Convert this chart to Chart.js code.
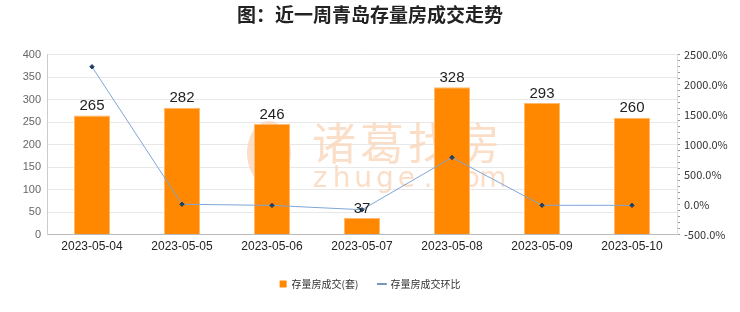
<!DOCTYPE html>
<html>
<head>
<meta charset="utf-8">
<script src="https://cdn.jsdelivr.net/npm/chart.js@4.4.0/dist/chart.umd.min.js"></script>
<style>
  html, body { margin: 0; padding: 0; background: #fff; }
  #wrap { width: 740px; height: 312px; }
</style>
</head>
<body>
<div id="wrap"><canvas id="c"></canvas></div>
<script>
// data
var dates = ['2023-05-04', '2023-05-05', '2023-05-06', '2023-05-07', '2023-05-08', '2023-05-09', '2023-05-10'];
var deals = [265, 282, 246, 37, 328, 293, 260];
var dealsChange = [2300, 6.4, -12.8, -85, 786.5, -10.7, -11.3];

// watermark behind the bars
var watermark = {
    id: 'watermark',
    beforeDatasetsDraw: function(chart){
        var ctx = chart.ctx;
        ctx.save();
        ctx.fillStyle = 'rgba(249, 214, 186, 0.8)';
        ctx.textBaseline = 'middle';
        ctx.textAlign = 'center';
        ctx.font = '44px "Noto Sans CJK SC"';
        var t = '诸葛找房';
        for (var j = 0; j < t.length; j++){
            ctx.fillText(t[j], 334 + j * 48, 143);
        }
        ctx.font = '28px "DejaVu Sans"';
        var s = 'zhuge.com';
        for (var i = 0; i < s.length; i++){
            ctx.fillText(s[i], 320 + i * 21.6, 180);
        }
        // logo
        ctx.beginPath();
        ctx.ellipse(269, 153, 22, 32, 0, 0, Math.PI * 2);
        ctx.fill();
        ctx.restore();
    }
};

// bar value labels
var barLabels = {
    id: 'barLabels',
    afterDatasetsDraw: function(chart){
        var ctx = chart.ctx;
        var meta = chart.getDatasetMeta(0);
        ctx.save();
        ctx.fillStyle = '#222';
        ctx.font = '15px "Liberation Sans"';
        ctx.textAlign = 'center';
        ctx.textBaseline = 'bottom';
        meta.data.forEach(function(bar, i){
            ctx.fillText(deals[i], bar.x, bar.y - 2);
        });
        ctx.restore();
    }
};

var ctx = document.getElementById('c').getContext('2d');
var myChart = new Chart(ctx, {
    type: 'bar',
    data: {
        labels: dates,
        datasets: [{
            type: 'bar',
            label: '存量房成交(套)',
            data: deals,
            yAxisID: 'y',
            backgroundColor: '#FF8800',
            borderColor: '#FFB870',
            borderWidth: 1,
            barPercentage: 0.4,
            categoryPercentage: 1,
            order: 2
        }, {
            type: 'line',
            label: '存量房成交环比',
            data: dealsChange,
            yAxisID: 'y1',
            borderColor: '#7EA6D6',
            backgroundColor: '#1F3F66',
            borderWidth: 1,
            pointStyle: 'rectRot',
            pointRadius: 2.2,
            pointBorderColor: '#1F3F66',
            pointBackgroundColor: '#1F3F66',
            tension: 0,
            order: 1
        }]
    },
    options: {
        responsive: true,
        maintainAspectRatio: false,
        animation: false,
        layout: { padding: { left: 0, right: 0, top: 0, bottom: 13 } },
        plugins: {
            title: {
                display: true,
                text: '图：近一周青岛存量房成交走势',
                color: '#222',
                font: { size: 19, weight: 'bold', family: '"Noto Sans CJK SC"' },
                padding: { top: 3, bottom: 29 }
            },
            legend: {
                position: 'bottom',
                labels: {
                    color: '#333',
                    font: { size: 10, family: '"Noto Sans CJK SC"' },
                    usePointStyle: true,
                    boxWidth: 7,
                    boxHeight: 7,
                    padding: 20,
                    generateLabels: function(chart){
                        return [{
                            text: '存量房成交(套)', fillStyle: '#FF8800', strokeStyle: '#FF8800',
                            lineWidth: 0, pointStyle: 'rect', datasetIndex: 0, fontColor: '#333'
                        }, {
                            text: '存量房成交环比', fillStyle: '#1F3F66', strokeStyle: '#4A76A8',
                            lineWidth: 1.5, pointStyle: 'line', datasetIndex: 1, fontColor: '#333'
                        }];
                    }
                }
            },
            tooltip: { enabled: false }
        },
        scales: {
            x: {
                grid: { display: false, drawTicks: false },
                border: { color: '#bbb' },
                ticks: { color: '#222', font: { size: 12, family: '"Liberation Sans"' }, padding: 5, maxRotation: 0 }
            },
            y: {
                position: 'left',
                min: 0,
                max: 400,
                ticks: { stepSize: 50, color: '#666', font: { size: 11, family: '"Liberation Sans"' }, padding: 6 },
                grid: { color: '#e8e8e8', drawTicks: false },
                border: { color: '#ccc' },
                afterFit: function(scale){ scale.width = 47; }
            },
            y1: {
                position: 'right',
                min: -500,
                max: 2500,
                ticks: {
                    stepSize: 100,
                    autoSkip: false,
                    color: '#333',
                    font: { size: 11, family: '"Noto Sans CJK SC"' },
                    padding: 4,
                    callback: function(v){ return v % 500 === 0 ? v + '.0%' : ''; }
                },
                grid: { drawOnChartArea: false, tickLength: 3, color: '#999' },
                border: { color: '#ddd' },
                afterFit: function(scale){ scale.width = 63; }
            }
        }
    },
    plugins: [watermark, barLabels]
});
</script>
</body>
</html>
